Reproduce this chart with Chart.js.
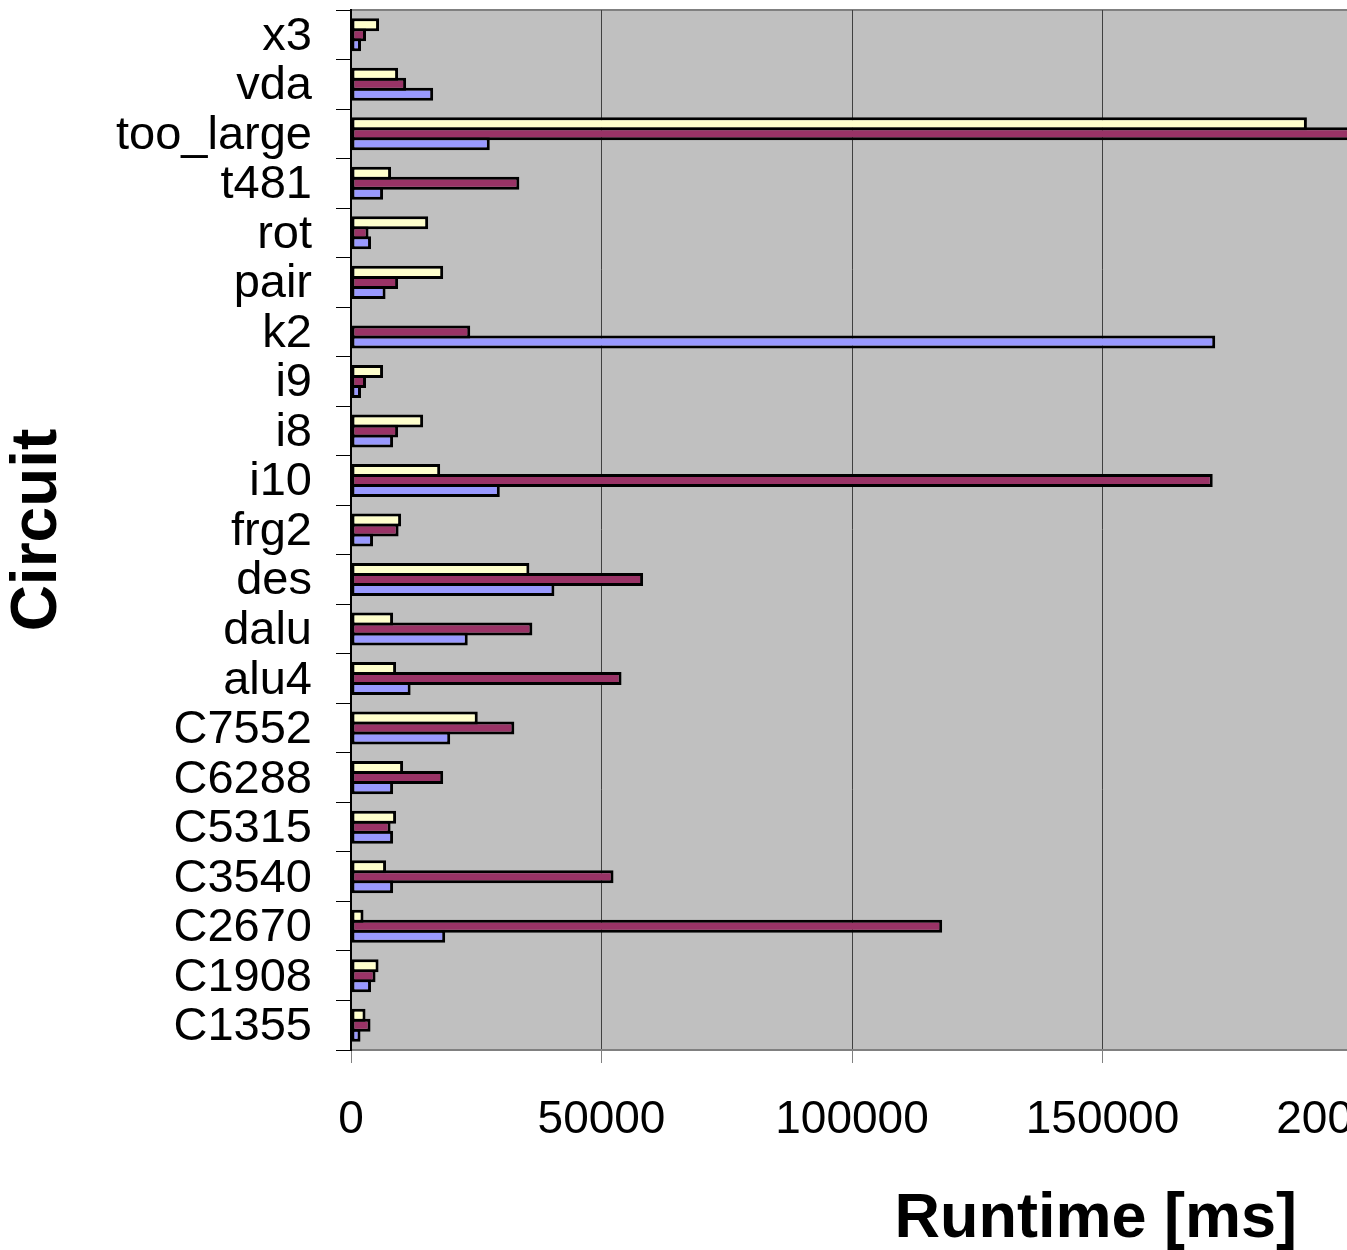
<!DOCTYPE html>
<html lang="en">
<head>
<meta charset="UTF-8">
<title>Runtime per circuit</title>
<script src="https://cdn.jsdelivr.net/npm/chart.js"></script>
<style>
  html, body { margin: 0; padding: 0; background: #fff; overflow: hidden; }
  /* the plot runs a little past the right edge of the window, like the original */
  #wrap { position: relative; width: 1360px; height: 1250px; }
</style>
</head>
<body>
<div id="wrap"><canvas id="runtimeChart"></canvas></div>
<script>
const circuits = ['x3', 'vda', 'too_large', 't481', 'rot', 'pair', 'k2', 'i9', 'i8', 'i10', 'frg2',
  'des', 'dalu', 'alu4', 'C7552', 'C6288', 'C5315', 'C3540', 'C2670', 'C1908', 'C1355'];
const runtimeYellow = [5600, 9400, 190800, 8000, 15400, 18400, null, 6400, 14400, 17800, 10000,
  35600, 8400, 9000, 25300, 10400, 9000, 7000, 2500, 5500, 2900];
const runtimeMaroon = [3000, 11000, 215000, 33600, 3500, 9400, 23800, 3000, 9400, 172000, 9500,
  58300, 36200, 54000, 32600, 18400, 7900, 52400, 118000, 4900, 3900];
const runtimeBlue = [2000, 16400, 27700, 6400, 4000, 6900, 172500, 2000, 8400, 29700, 4400,
  40600, 23300, 11900, 19800, 8400, 8400, 8400, 18800, 4000, 1900];
const xTicks = [0, 50000, 100000, 150000, 200000];

const FONT = '"Liberation Sans", Arial, sans-serif';

// grey plot background + grey top border
const plotBackground = {
  id: 'plotBackground',
  beforeDraw(chart) {
    const { ctx, chartArea: a } = chart;
    ctx.save();
    ctx.fillStyle = '#c0c0c0';
    ctx.fillRect(a.left, a.top, a.right - a.left, a.bottom - a.top);
    ctx.strokeStyle = '#808080';
    ctx.lineWidth = 2;
    ctx.beginPath();
    ctx.moveTo(a.left, a.top);
    ctx.lineTo(a.right, a.top);
    ctx.stroke();
    ctx.restore();
  }
};

// x axis title sits to the right, not centred
const xTitle = {
  id: 'xTitle',
  afterDraw(chart) {
    const { ctx, chartArea: a } = chart;
    ctx.save();
    ctx.font = 'bold 63px ' + FONT;
    ctx.fillStyle = '#000';
    ctx.textAlign = 'right';
    ctx.textBaseline = 'alphabetic';
    ctx.fillText('Runtime [ms]', a.right - 56, a.bottom + 187);
    ctx.restore();
  }
};

const barStyle = {
  borderColor: '#000',
  borderWidth: 3,
  borderSkipped: false,
  categoryPercentage: 0.606,
  barPercentage: 1.3
};

new Chart(document.getElementById('runtimeChart'), {
  type: 'bar',
  data: {
    labels: circuits,
    datasets: [
      { label: 'Series 1', data: runtimeYellow, backgroundColor: '#ffffcc', ...barStyle },
      { label: 'Series 2', data: runtimeMaroon, backgroundColor: '#993366', ...barStyle },
      { label: 'Series 3', data: runtimeBlue, backgroundColor: '#9999ff', ...barStyle }
    ]
  },
  options: {
    indexAxis: 'y',
    responsive: true,
    maintainAspectRatio: false,
    animation: false,
    layout: { padding: { top: 10, right: 7, bottom: 0, left: 0 } },
    plugins: {
      legend: { display: false },
      tooltip: { enabled: false }
    },
    scales: {
      x: {
        min: 0,
        max: 200000,
        afterBuildTicks(scale) { scale.ticks = xTicks.map(v => ({ value: v })); },
        afterFit(scale) {
          scale.height = 200;
          scale.paddingLeft = 0;
          scale.paddingRight = 0;
        },
        grid: {
          color: '#404040',
          lineWidth: 1,
          tickColor: '#808080',
          tickLength: 13
        },
        border: { color: '#808080', width: 2 },
        ticks: {
          color: '#000',
          padding: 30,
          maxRotation: 0,
          autoSkip: false,
          font: { family: FONT, size: 46 },
          callback: v => String(v)
        }
      },
      y: {
        afterFit(scale) {
          scale.width = 351;
          scale.paddingTop = 0;
          scale.paddingBottom = 0;
        },
        grid: {
          drawOnChartArea: false,
          color: '#000',
          tickLength: 15,
          lineWidth: 1
        },
        border: { color: '#000', width: 2 },
        ticks: {
          color: '#000',
          padding: 24,
          labelOffset: 2,
          autoSkip: false,
          font: { family: FONT, size: 47 }
        },
        title: {
          display: true,
          text: 'Circuit',
          color: '#000',
          padding: { top: 0, bottom: 0 },
          font: { family: FONT, size: 64, weight: 'bold', lineHeight: 1.2 }
        }
      }
    }
  },
  plugins: [plotBackground, xTitle]
});
</script>
</body>
</html>
